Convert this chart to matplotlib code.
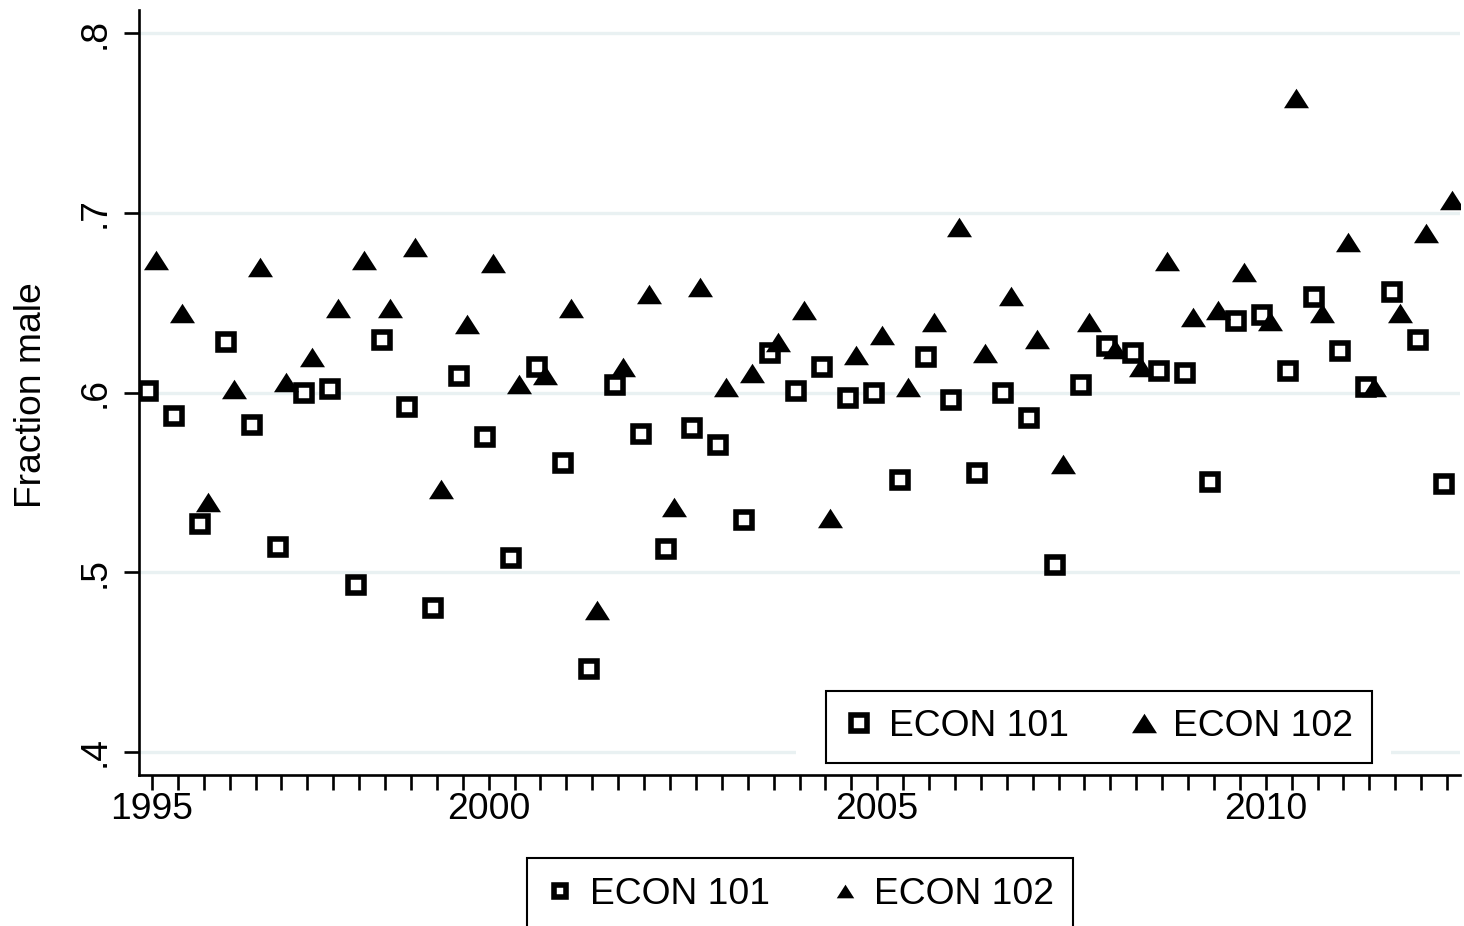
import numpy as np
import matplotlib
matplotlib.use('Agg')
import matplotlib.pyplot as plt
from matplotlib.path import Path
from matplotlib.patches import Rectangle

# ── Dados: fração de alunos homens por período (3 períodos por ano) ─────────
term_labels = ['1995', '2000', '2005', '2010']
label_terms = [0, 13, 28, 43]          # índice do período que recebe o rótulo
n_terms = 51

econ101 = [0.601, 0.587, 0.527, 0.628, 0.582, 0.514, 0.600, 0.602, 0.493, 0.629,
           0.592, 0.480, 0.609, 0.575, 0.508, 0.614, 0.561, 0.446, 0.604, 0.577,
           0.513, 0.580, 0.571, 0.529, 0.622, 0.601, 0.614, 0.597, 0.600, 0.551,
           0.620, 0.596, 0.555, 0.600, 0.586, 0.504, 0.604, 0.626, 0.622, 0.612,
           0.611, 0.550, 0.640, 0.643, 0.612, 0.653, 0.623, 0.603, 0.656, 0.629,
           0.549]

econ102 = [0.674, 0.644, 0.539, 0.602, 0.670, 0.606, 0.620, 0.647, 0.674, 0.647,
           0.681, 0.546, 0.638, 0.672, 0.605, 0.610, 0.647, 0.479, 0.614, 0.655,
           0.536, 0.659, 0.603, 0.611, 0.628, 0.646, 0.530, 0.621, 0.632, 0.603,
           0.639, 0.692, 0.622, 0.654, 0.630, 0.560, 0.639, 0.624, 0.614, 0.673,
           0.642, 0.646, 0.667, 0.640, 0.764, 0.644, 0.684, 0.603, 0.644, 0.689,
           0.707]

y_ticks = [0.4, 0.5, 0.6, 0.7, 0.8]
y_ticklabels = ['.4', '.5', '.6', '.7', '.8']

# ── Estilo ────────────────────────────────────────────────────────────────────
plt.rcParams['font.family'] = ['Liberation Sans', 'DejaVu Sans']
plt.rcParams['font.size'] = 26.8

term = 1995 + 2 / 3 + np.arange(n_terms) / 3
dx101, dx102 = -0.045, 0.058          # pequeno deslocamento entre as séries

tri = Path([(-1, -0.78), (1, -0.78), (0, 0.78), (-1, -0.78)],
           [Path.MOVETO, Path.LINETO, Path.LINETO, Path.CLOSEPOLY])

fig = plt.figure(figsize=(14.64, 9.26), dpi=100)
ax = fig.add_axes([139 / 1464, 1 - 775 / 926, 1321 / 1464, 765 / 926])

ax.plot(term + dx101, econ101, ls='none', marker='s', ms=11.5, mew=4,
        mfc='white', mec='black', label='ECON 101', zorder=3)
ax.plot(term + dx102, econ102, ls='none', marker=tri, ms=18, mew=0,
        mfc='black', mec='black', label='ECON 102', zorder=3)

ax.set_xlim(1995.5, 2012.5)
ax.set_ylim(0.387, 0.813)

ax.set_xticks(term)
xlabels = [''] * n_terms
for k, lab in zip(label_terms, term_labels):
    xlabels[k] = lab
ax.set_xticklabels(xlabels)

ax.set_yticks(y_ticks)
ax.set_yticklabels(y_ticklabels, rotation=90, va='center')

ax.tick_params(axis='both', length=11, width=1.9, color='black')
ax.tick_params(axis='x', pad=1)
ax.tick_params(axis='y', pad=8)

ax.grid(axis='y', color='#e9f1f2', lw=2.4)
ax.set_axisbelow(True)

for s in ['top', 'right']:
    ax.spines[s].set_visible(False)
for s in ['left', 'bottom']:
    ax.spines[s].set_linewidth(1.9)

ax.set_ylabel('Fraction male')
ax.yaxis.set_label_coords(-0.068, 0.497)

# área branca da legenda interna (interrompe a linha de grade do .4)
ax.add_patch(Rectangle((0.4973, 0.0), 0.4504, 0.045, transform=ax.transAxes,
                       facecolor='white', edgecolor='none', zorder=1))

leg_kw = dict(ncol=2, frameon=True, fancybox=False, borderpad=0.5,
              handlelength=0.8, handletextpad=0.4, columnspacing=1.6,
              borderaxespad=0, edgecolor='black', framealpha=1)

leg = ax.legend(loc='lower center', bbox_to_anchor=(0.7267, 0.0157), **leg_kw)
leg.get_frame().set_linewidth(1.5)

leg2 = fig.legend(*ax.get_legend_handles_labels(), loc='upper center',
                  bbox_to_anchor=(0.5464, 1 - 858 / 926), markerscale=0.7, **leg_kw)
leg2.get_frame().set_linewidth(1.5)

fig.savefig('out.png', dpi=100)
